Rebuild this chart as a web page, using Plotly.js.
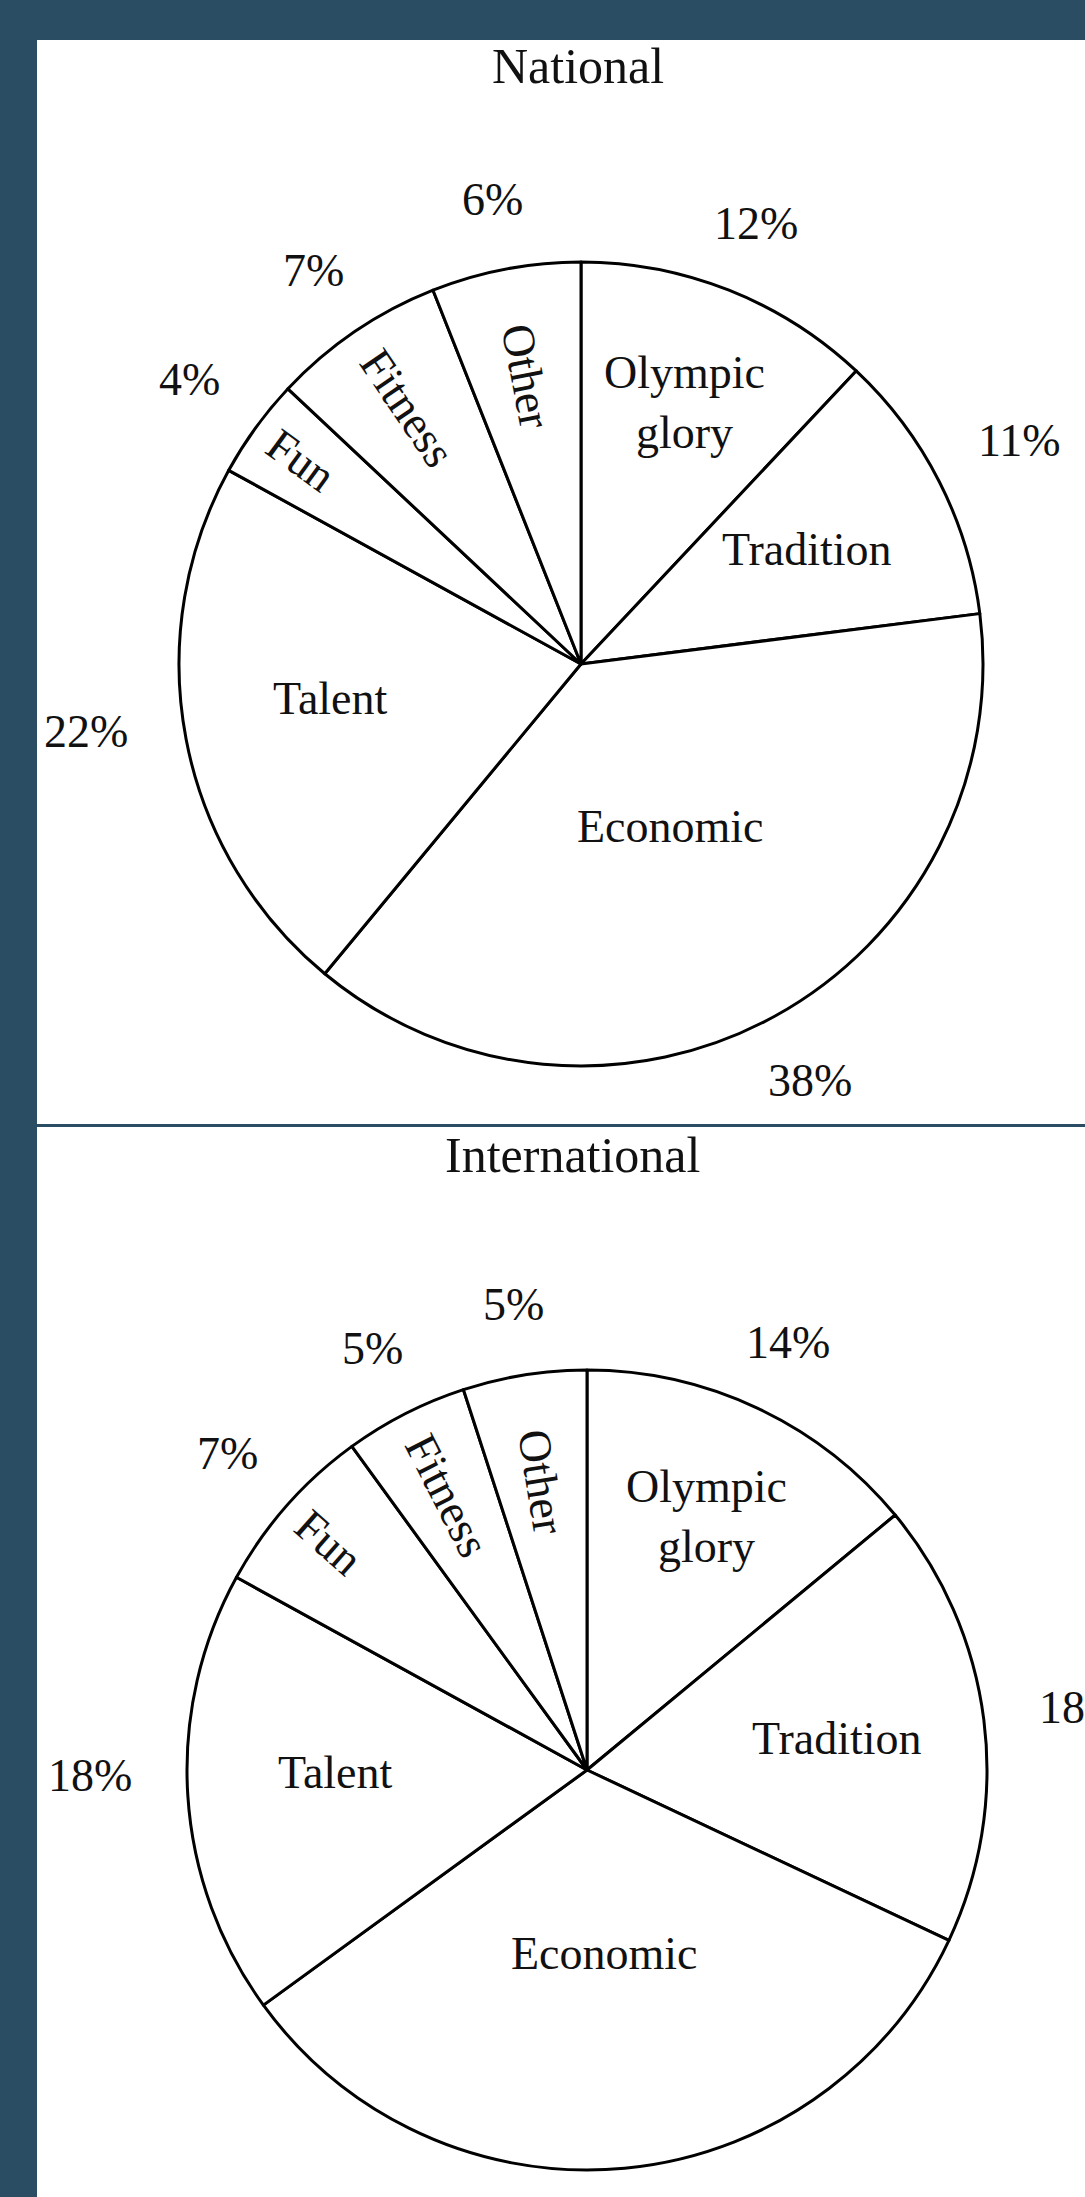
<!DOCTYPE html>
<html>
<head>
<meta charset="utf-8">
<script src="https://cdn.plot.ly/plotly-3.0.1.min.js"></script>
<style>
  html, body { margin: 0; padding: 0; background: #2b4d63; }
  #chart { width: 1085px; height: 2197px; }
</style>
</head>
<body>
<div id="chart"></div>
<script>
// ---- Data ----
const categories = ["Olympic glory", "Tradition", "Economic", "Talent", "Fun", "Fitness", "Other"];
const nationalValues = [12, 11, 38, 22, 4, 7, 6];
const internationalValues = [14, 18, 33, 18, 7, 5, 5];
const chartTitles = ["National", "International"];

// ---- Style / layout ----
const W = 1085, H = 2197;
const px = x => x / W;
const py = y => 1 - y / H;
const FONT = "Liberation Serif, Times New Roman, serif";
const INK = "#111111";
const BG = "#2b4d63";
const LABEL_SIZE = 46;

const panels = [
  { title: chartTitles[0], values: nationalValues, cx: 581, cy: 664, r: 402, tx: 578, ty: 66 },
  { title: chartTitles[1], values: internationalValues, cx: 587, cy: 1770, r: 400, tx: 572, ty: 1155 }
];
// radial position (fraction of radius) for the name inside each slice
const nameRadius = { "Olympic glory": 0.70, "Tradition": 0.63, "Economic": 0.46, "Talent": 0.63, "Fun": 0.86, "Fitness": 0.77, "Other": 0.73 };
// small angular nudge (degrees) for label placement
const angleNudge = { "Talent": 3 };
const pctGap = 55;          // gap between pie edge and percentage text box
const charW = 0.5 * LABEL_SIZE, pctHalfH = 16;

const traces = [];
const annotations = [];

panels.forEach(p => {
  traces.push({
    type: "pie",
    labels: categories,
    values: p.values,
    sort: false,
    direction: "clockwise",
    rotation: 0,
    textinfo: "none",
    hoverinfo: "label+percent",
    showlegend: false,
    marker: { colors: categories.map(() => "#ffffff"), line: { color: "#000000", width: 3 } },
    domain: { x: [px(p.cx - p.r), px(p.cx + p.r)], y: [py(p.cy + p.r), py(p.cy - p.r)] }
  });

  annotations.push({
    xref: "paper", yref: "paper", x: px(p.tx), y: py(p.ty),
    xanchor: "center", yanchor: "middle", showarrow: false,
    text: p.title, font: { family: FONT, size: 50, color: INK }
  });

  const total = p.values.reduce((a, b) => a + b, 0);
  let cum = 0;
  p.values.forEach((v, i) => {
    const name = categories[i];
    const midDeg = (cum + v / 2) / total * 360 + (angleNudge[name] || 0);
    cum += v;
    const th = midDeg * Math.PI / 180;
    const sx = Math.sin(th), sy = -Math.cos(th);
    const k = nameRadius[name];
    const small = v < 10;
    annotations.push({
      xref: "paper", yref: "paper",
      x: px(p.cx + sx * k * p.r), y: py(p.cy + sy * k * p.r),
      xanchor: "center", yanchor: "middle", showarrow: false,
      text: name.replace(" ", "<br>"),
      textangle: small ? midDeg - 270 : 0,
      font: { family: FONT, size: LABEL_SIZE, color: INK }
    });
    // percentage label placed just outside the rim, along the slice's mid direction
    const txt = v + "%";
    const halfW = (txt.length - 1) * charW / 2 + 0.42 * LABEL_SIZE;
    const boxReach = Math.min(halfW / Math.max(Math.abs(sx), 1e-6), pctHalfH / Math.max(Math.abs(sy), 1e-6));
    const d = p.r + pctGap + boxReach;
    annotations.push({
      xref: "paper", yref: "paper",
      x: px(p.cx + sx * d), y: py(p.cy + sy * d),
      xanchor: "center", yanchor: "middle", showarrow: false,
      text: txt,
      font: { family: FONT, size: LABEL_SIZE, color: INK }
    });
  });
});

const shapes = [
  { type: "rect", xref: "paper", yref: "paper", layer: "below",
    x0: px(37), x1: px(W), y0: py(1124), y1: py(40),
    fillcolor: "#ffffff", line: { width: 0 } },
  { type: "rect", xref: "paper", yref: "paper", layer: "below",
    x0: px(37), x1: px(W), y0: py(H), y1: py(1127),
    fillcolor: "#ffffff", line: { width: 0 } }
];

const layout = {
  width: W, height: H,
  margin: { l: 0, r: 0, t: 0, b: 0 },
  paper_bgcolor: BG,
  plot_bgcolor: BG,
  showlegend: false,
  shapes: shapes,
  annotations: annotations
};

Plotly.newPlot("chart", traces, layout, { displayModeBar: false, responsive: false });
</script>
</body>
</html>
